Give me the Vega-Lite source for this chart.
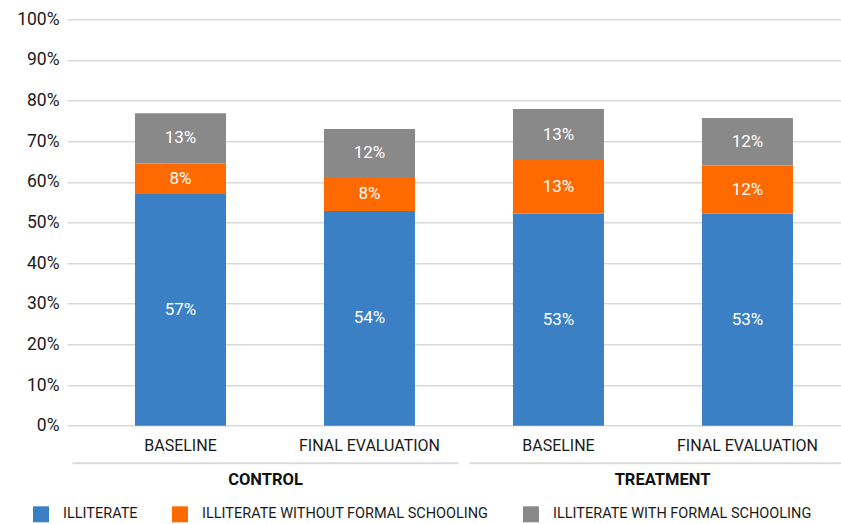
{
  "$schema": "https://vega.github.io/schema/vega-lite/v6.json",
  "width": 774,
  "height": 406.4,
  "autosize": "none",
  "padding": {"left": 67, "top": 19.3, "right": 0, "bottom": 98.3},
  "config": {
    "view": {"stroke": null},
    "font": "Roboto"
  },
  "layer": [
    {
      "data": {
        "values": [
          {"bar": "CONTROL|BASELINE", "series": "ILLITERATE", "rank": 1, "value": 0.570, "label": 0.57},
          {"bar": "CONTROL|BASELINE", "series": "ILLITERATE WITHOUT FORMAL SCHOOLING", "rank": 2, "value": 0.075, "label": 0.08},
          {"bar": "CONTROL|BASELINE", "series": "ILLITERATE WITH FORMAL SCHOOLING", "rank": 3, "value": 0.124, "label": 0.13},
          {"bar": "CONTROL|FINAL EVALUATION", "series": "ILLITERATE", "rank": 1, "value": 0.528, "label": 0.54},
          {"bar": "CONTROL|FINAL EVALUATION", "series": "ILLITERATE WITHOUT FORMAL SCHOOLING", "rank": 2, "value": 0.084, "label": 0.08},
          {"bar": "CONTROL|FINAL EVALUATION", "series": "ILLITERATE WITH FORMAL SCHOOLING", "rank": 3, "value": 0.118, "label": 0.12},
          {"bar": "TREATMENT|BASELINE", "series": "ILLITERATE", "rank": 1, "value": 0.522, "label": 0.53},
          {"bar": "TREATMENT|BASELINE", "series": "ILLITERATE WITHOUT FORMAL SCHOOLING", "rank": 2, "value": 0.132, "label": 0.13},
          {"bar": "TREATMENT|BASELINE", "series": "ILLITERATE WITH FORMAL SCHOOLING", "rank": 3, "value": 0.125, "label": 0.13},
          {"bar": "TREATMENT|FINAL EVALUATION", "series": "ILLITERATE", "rank": 1, "value": 0.522, "label": 0.53},
          {"bar": "TREATMENT|FINAL EVALUATION", "series": "ILLITERATE WITHOUT FORMAL SCHOOLING", "rank": 2, "value": 0.118, "label": 0.12},
          {"bar": "TREATMENT|FINAL EVALUATION", "series": "ILLITERATE WITH FORMAL SCHOOLING", "rank": 3, "value": 0.117, "label": 0.12}
        ]
      },
      "encoding": {
        "x": {
          "field": "bar",
          "type": "nominal",
          "sort": null,
          "scale": {"paddingInner": 0.5185, "paddingOuter": 0.3069, "align": 0.586},
          "axis": {
            "title": null,
            "labelAngle": 0,
            "domain": false,
            "ticks": false,
            "labelPadding": 12,
            "labelFontSize": 16,
            "labelColor": "#1a1a1a",
            "labelExpr": "split(datum.label, '|')[1]"
          }
        },
        "y": {
          "field": "value",
          "type": "quantitative",
          "stack": "zero",
          "title": null,
          "scale": {"domain": [0, 1]},
          "axis": {
            "format": ".0%",
            "values": [0, 0.1, 0.2, 0.3, 0.4, 0.5, 0.6, 0.7, 0.8, 0.9, 1],
            "domain": false,
            "ticks": false,
            "labelPadding": 8,
            "labelFontSize": 17.5,
            "labelColor": "#1a1a1a",
            "gridColor": "#d9d9d9",
            "gridWidth": 1.6
          }
        },
        "order": {"field": "rank", "type": "quantitative"}
      },
      "layer": [
        {
          "mark": {"type": "bar"},
          "encoding": {
            "color": {
              "field": "series",
              "type": "nominal",
              "scale": {
                "domain": ["ILLITERATE", "ILLITERATE WITHOUT FORMAL SCHOOLING", "ILLITERATE WITH FORMAL SCHOOLING"],
                "range": ["#3b80c4", "#ff6a00", "#898989"]
              },
              "legend": {
                "title": null,
                "orient": "none",
                "legendX": -34,
                "legendY": 487,
                "direction": "horizontal",
                "symbolType": "square",
                "symbolSize": 256,
                "symbolStrokeWidth": 0,
                "labelFontSize": 14.5,
                "labelColor": "#1a1a1a",
                "labelOffset": 14,
                "labelLimit": 400,
                "columnPadding": 34
              }
            }
          }
        },
        {
          "mark": {"type": "text", "color": "white", "fontSize": 17, "baseline": "middle"},
          "encoding": {
            "y": {"field": "value", "type": "quantitative", "stack": "zero", "bandPosition": 0.5, "title": null},
            "text": {"field": "label", "type": "quantitative", "format": ".0%"}
          }
        }
      ]
    },
    {
      "data": {"values": [{"group": "CONTROL"}, {"group": "TREATMENT"}]},
      "encoding": {
        "x": {
          "field": "group",
          "type": "nominal",
          "sort": null,
          "scale": {"range": [0, 794], "paddingInner": 0.0277, "paddingOuter": 0.01385},
          "axis": null
        }
      },
      "layer": [
        {
          "mark": {"type": "rect", "color": "#d9d9d9"},
          "encoding": {
            "y": {"datum": -0.0901, "type": "quantitative", "title": null, "scale": {"domain": [0, 1]}},
            "y2": {"datum": -0.0950}
          }
        },
        {
          "mark": {"type": "text", "fontWeight": "bold", "fontSize": 16.5, "color": "#111111", "baseline": "middle"},
          "encoding": {
            "y": {"datum": -0.134, "type": "quantitative", "title": null, "scale": {"domain": [0, 1]}},
            "text": {"field": "group"}
          }
        }
      ]
    }
  ],
  "resolve": {"scale": {"x": "independent"}}
}
